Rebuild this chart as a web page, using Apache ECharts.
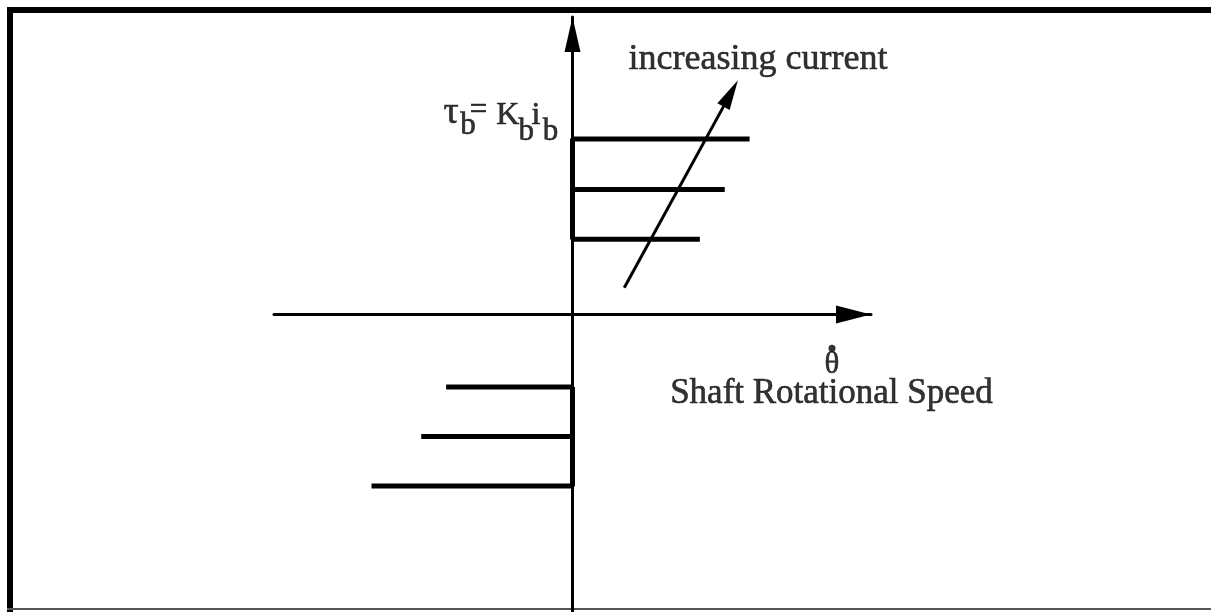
<!DOCTYPE html>
<html>
<head>
<meta charset="utf-8">
<script src="https://cdn.jsdelivr.net/npm/echarts@6/dist/echarts.min.js"></script>
<style>
html,body{margin:0;padding:0;background:#fff;}
#c{width:1211px;height:612px;}
</style>
</head>
<body>
<div id="c"></div>
<script>
// Positive speed: torque level and line extent (right of axis)
const posTorque = [1.77, 1.26, 0.76];
const posSpeedEnd = [1.78, 1.53, 1.28];
// Negative speed: torque level and line extent (left of axis)
const negTorque = [-0.73, -1.23, -1.73];
const negSpeedEnd = [-1.27, -1.52, -2.02];
// "increasing current" arrow: start and end (data units)
const currentArrowFrom = [0.52, 0.27];
const currentArrowTo = [1.59, 2.23];
// Text annotations
const mainTexts = ['increasing current', 'Shaft Rotational Speed', 'θ'];
const mainTextPos = [[1.864, 2.57], [2.603, -0.80], [2.608, -0.51]];
const mainTextSize = [36, 35, 31];
const thetaDotPos = [2.608, -0.34];
const torqueLabelParts = ['τ', 'b', '=', 'K', 'i', 'b', 'b'];
const torqueLabelPos = [[-1.221, 2.03], [-1.050, 1.90], [-0.945, 2.05], [-0.650, 2.01], [-0.367, 2.01], [-0.466, 1.84], [-0.222, 1.84]];
const torqueLabelSize = [38, 31, 31, 32, 32, 31, 31];

const FONT = '"Liberation Serif", "DejaVu Serif", serif';

const series = [];
posTorque.forEach((t, i) => {
  series.push({
    type: 'line', showSymbol: false, silent: true, animation: false,
    lineStyle: { color: '#000', width: 5, cap: 'butt' },
    data: [[0, posTorque[posTorque.length - 1]], [0, t], [posSpeedEnd[i], t]]
  });
});
negTorque.forEach((t, i) => {
  series.push({
    type: 'line', showSymbol: false, silent: true, animation: false,
    lineStyle: { color: '#000', width: 5, cap: 'butt' },
    data: [[0, negTorque[0]], [0, t], [negSpeedEnd[i], t]]
  });
});
// arrow
series.push({
  type: 'line', data: [], silent: true, animation: false,
  markLine: {
    silent: true, animation: false,
    symbol: ['none', 'triangle'], symbolSize: [14, 30],
    label: { show: false },
    lineStyle: { color: '#000', width: 3, type: 'solid' },
    data: [[{ coord: currentArrowFrom }, { coord: currentArrowTo }]]
  }
});
// text labels
const textData = [];
mainTexts.forEach((t, i) => {
  textData.push({ value: [mainTextPos[i][0], mainTextPos[i][1]], name: t,
    label: { fontSize: mainTextSize[i] } });
});
torqueLabelParts.forEach((t, i) => {
  textData.push({ value: torqueLabelPos[i], name: t, label: { fontSize: torqueLabelSize[i] } });
});
series.push({
  type: 'scatter', silent: true, animation: false, symbolSize: 0,
  data: textData,
  label: { show: true, position: 'inside', formatter: p => p.name, color: '#000',
    textBorderColor: '#000', textBorderWidth: 0.6,
    fontFamily: FONT, align: 'center', verticalAlign: 'middle' }
});
series.push({
  type: 'scatter', silent: true, animation: false, symbol: 'circle', symbolSize: 7,
  itemStyle: { color: '#000' }, data: [thetaDotPos]
});

const chart = echarts.init(document.getElementById('c'), null, { renderer: 'canvas' });
chart.setOption({
  backgroundColor: '#fff',
  animation: false,
  grid: { left: 274, right: 340, top: 17, bottom: 0, containLabel: false },
  xAxis: {
    type: 'value', min: -3, max: 3,
    axisLine: { onZero: true, lineStyle: { color: '#000', width: 3 },
      symbol: ['none', 'triangle'], symbolSize: [18, 35], symbolOffset: [0, -17.5] },
    axisTick: { show: false }, axisLabel: { show: false }, splitLine: { show: false }
  },
  yAxis: {
    type: 'value', min: -3, max: 3,
    axisLine: { onZero: true, lineStyle: { color: '#000', width: 3 },
      symbol: ['none', 'triangle'], symbolSize: [16, 35], symbolOffset: [0, -17.5] },
    axisTick: { show: false }, axisLabel: { show: false }, splitLine: { show: false }
  },
  graphic: [
    { type: 'rect', shape: { x: 7, y: 7, width: 1204, height: 6 }, style: { fill: '#000' } },
    { type: 'rect', shape: { x: 7, y: 7, width: 6, height: 605 }, style: { fill: '#000' } },
    { type: 'rect', shape: { x: 7, y: 608, width: 1204, height: 2 }, style: { fill: '#555' } }
  ],
  series: series
});
</script>
</body>
</html>
